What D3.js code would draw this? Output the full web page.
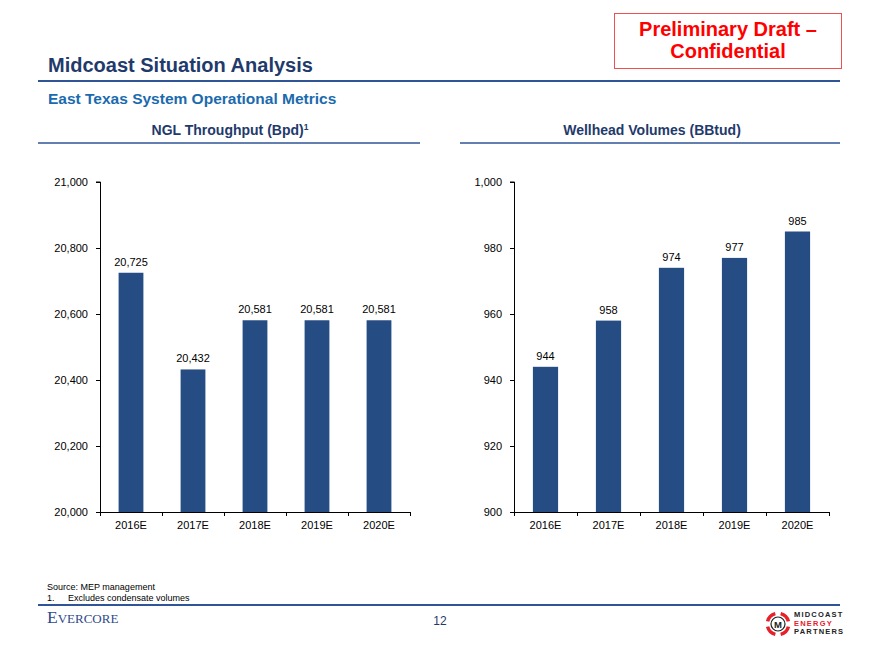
<!DOCTYPE html>
<html><head><meta charset="utf-8">
<script src="https://cdn.jsdelivr.net/npm/d3@7"></script>
<style>body{margin:0;background:#fff}svg{display:block;font-family:Arial,"Liberation Sans",sans-serif}</style>
</head><body>
<script>
const categories = ["2016E","2017E","2018E","2019E","2020E"];
const nglValues = [20725, 20432, 20581, 20581, 20581];
const nglTicks = [20000, 20200, 20400, 20600, 20800, 21000];
const wellValues = [944, 958, 974, 977, 985];
const wellTicks = [900, 920, 940, 960, 980, 1000];

const W = 880, H = 660;
const svg = d3.select("body").append("svg").attr("width", W).attr("height", H);
const navy = "#1f3a6b", blue = "#2f5597", barColor = "#254c83";

// Draft box
svg.append("rect").attr("x",614.5).attr("y",13.5).attr("width",227).attr("height",55)
  .attr("fill","#fff").attr("stroke","#f05050").attr("stroke-width",1);
svg.append("text").attr("x",728).attr("y",36).attr("text-anchor","middle")
  .attr("font-size",20).attr("font-weight","bold").attr("fill","#ff0000").text("Preliminary Draft –");
svg.append("text").attr("x",728).attr("y",58).attr("text-anchor","middle")
  .attr("font-size",20).attr("font-weight","bold").attr("fill","#ff0000").text("Confidential");

// Titles
svg.append("text").attr("x",48).attr("y",72).attr("font-size",20).attr("font-weight","bold")
  .attr("fill",navy).text("Midcoast Situation Analysis");
svg.append("line").attr("x1",38).attr("x2",840).attr("y1",81).attr("y2",81).attr("stroke",blue).attr("stroke-width",2);
svg.append("text").attr("x",48).attr("y",104).attr("font-size",15.5).attr("font-weight","bold")
  .attr("fill","#1b6aae").text("East Texas System Operational Metrics");

function chartTitle(cx, x1, x2, txt, sup){
  const t = svg.append("text").attr("x",cx).attr("y",135).attr("text-anchor","middle")
    .attr("font-size",14).attr("font-weight","bold").attr("fill",navy).text(txt);
  if(sup) t.append("tspan").attr("font-size",8.5).attr("dy",-5).text(sup);
  svg.append("line").attr("x1",x1).attr("x2",x2).attr("y1",143).attr("y2",143).attr("stroke",blue).attr("stroke-width",1.5);
}
chartTitle(230, 38, 420, "NGL Throughput (Bpd)", "1");
chartTitle(652, 460, 840, "Wellhead Volumes (BBtud)", null);

function barChart(x0, x1, values, ticks, fmt){
  const y = d3.scaleLinear().domain([ticks[0], ticks[ticks.length-1]]).range([512, 182]);
  const x = d3.scaleBand().domain(categories).range([x0, x1]).paddingInner(0.6).paddingOuter(0.3);
  const xb = d3.scaleBand().domain(categories).range([x0, x1]);
  const g = svg.append("g");
  const ya = g.append("g").attr("transform",`translate(${x0},0)`)
    .call(d3.axisLeft(y).tickValues(ticks).tickFormat(d3.format(",")).tickSize(4).tickPadding(8));
  ya.select(".domain").attr("stroke","#000").attr("d",`M-4,${y(ticks[0])+0.5}H0.5V${y(ticks[ticks.length-1])}H-4`);
  ya.selectAll("text").attr("font-size",11).attr("font-family","Arial, Liberation Sans, sans-serif").attr("fill","#000");
  ya.selectAll("line").attr("stroke","#000");
  g.selectAll("rect.bar").data(values).join("rect").attr("class","bar")
    .attr("x",(d,i)=>x(categories[i])).attr("width",x.bandwidth())
    .attr("y",d=>y(d)).attr("height",d=>512-y(d)).attr("fill",barColor);
  g.selectAll("text.val").data(values).join("text").attr("class","val")
    .attr("x",(d,i)=>x(categories[i])+x.bandwidth()/2).attr("y",d=>y(d)-7)
    .attr("text-anchor","middle").attr("font-size",11).attr("fill","#000").text(d=>fmt(d));
  const xa = g.append("g").attr("transform","translate(0,512)")
    .call(d3.axisBottom(xb).tickSize(0).tickPadding(9));
  xa.select(".domain").attr("stroke","#000").attr("d",`M${x0},0.5H${x1}`);
  xa.selectAll("text").attr("font-size",11).attr("font-family","Arial, Liberation Sans, sans-serif").attr("fill","#000");
  const bounds = categories.map(c=>xb(c)).concat([x1]);
  g.selectAll("line.bt").data(bounds).join("line").attr("class","bt")
    .attr("x1",d=>d+0.5).attr("x2",d=>d+0.5).attr("y1",512).attr("y2",516).attr("stroke","#000");
}
barChart(100, 410, nglValues, nglTicks, d3.format(","));
barChart(514, 829, wellValues, wellTicks, d3.format(","));

// footer
svg.append("text").attr("x",47).attr("y",590).attr("font-size",9).attr("fill","#000").text("Source: MEP management");
const fn = svg.append("text").attr("x",47).attr("y",601).attr("font-size",9).attr("fill","#000");
fn.append("tspan").text("1.");
fn.append("tspan").attr("x",68).text("Excludes condensate volumes");
svg.append("line").attr("x1",38).attr("x2",840).attr("y1",605).attr("y2",605).attr("stroke",blue).attr("stroke-width",2);
const ev = svg.append("text").attr("x",47).attr("y",623).attr("font-family","Liberation Serif, DejaVu Serif, serif")
  .attr("fill","#2f4a8a").attr("font-size",17.5);
ev.append("tspan").text("E");
ev.append("tspan").attr("font-size",13).text("VERCORE");
svg.append("text").attr("x",440).attr("y",625).attr("text-anchor","middle").attr("font-size",12).attr("fill","#1f3a6b").text("12");

// logo
const lg = svg.append("g").attr("transform","translate(778,624)");
const arc = d3.arc().innerRadius(9).outerRadius(12.5);
[[0.25,1.32],[1.82,2.89],[3.39,4.46],[4.96,6.03]].forEach(a=>{
  lg.append("path").attr("d",arc({startAngle:a[0],endAngle:a[1]})).attr("fill","#e8202a");
});
lg.append("circle").attr("r",7).attr("fill","#fff").attr("stroke","#222").attr("stroke-width",1.2);
lg.append("text").attr("y",3.5).attr("text-anchor","middle").attr("font-size",9.5).attr("font-weight","bold").attr("fill","#222").text("M");
const lt = [["MIDCOAST","#222"],["ENERGY","#e8202a"],["PARTNERS","#222"]];
lt.forEach((d,i)=>{
  svg.append("text").attr("x",794).attr("y",617+i*8.5).attr("font-size",7.5).attr("font-weight","bold")
    .attr("letter-spacing",1.2).attr("fill",d[1]).text(d[0]);
});
</script>
</body></html>
